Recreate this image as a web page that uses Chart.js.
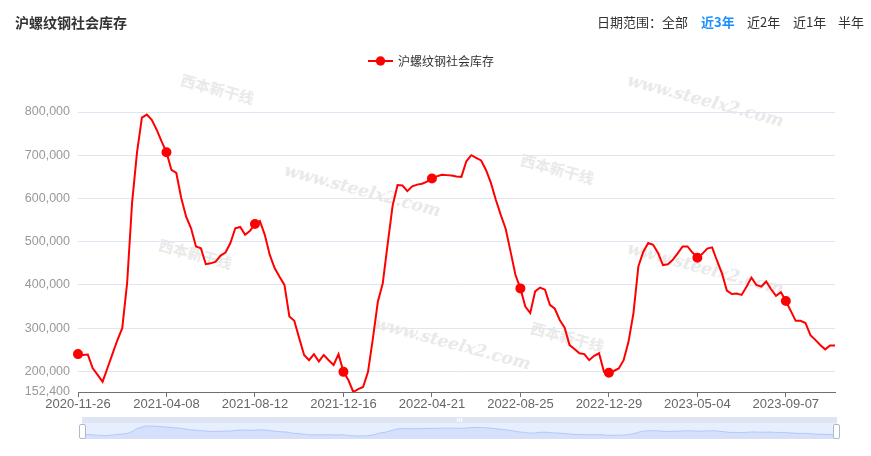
<!DOCTYPE html>
<html lang="zh-CN">
<head>
<meta charset="UTF-8">
<title>沪螺纹钢社会库存</title>
<script src="https://cdn.jsdelivr.net/npm/chart.js"></script>
<style>
  body { margin: 0; background: #fff; font-family: "Noto Sans CJK SC", "Noto Sans", sans-serif; }
  #wrap { position: relative; width: 871px; height: 456px; overflow: hidden; }
  #mainChart { position: absolute; left: 0; top: 0; }
  .title { position: absolute; left: 15px; top: 12px; line-height: 20px; font-size: 14px; font-weight: bold; color: #333; }
  .range { position: absolute; top: 12px; line-height: 20px; font-size: 13px; color: #333; }
  .range.on { color: #1890ff; font-weight: bold; }
  .legend { position: absolute; left: 368px; top: 52px; height: 18px; line-height: 18px; font-size: 12px; color: #333; }
  .legend svg { position: absolute; left: 0; top: 2px; }
  .legend span { position: absolute; left: 30px; top: 0; white-space: nowrap; }
  .wm { position: absolute; white-space: nowrap; color: #e9e9e9; font-style: italic; font-weight: bold; transform-origin: center; }
  .wm.url { font-family: "DejaVu Serif", serif; font-size: 17px; }
  .wm.cn { font-size: 15px; font-style: normal; }
  #slider { position: absolute; left: 82px; top: 417px; width: 755px; height: 22px; }
  #slider .bar { position: absolute; left: 0; top: 0; width: 755px; height: 6px; background: #dfe5f2; }
  #slider .grip { position: absolute; top: 1px; width: 1px; height: 4px; background: #fff; }
  #slider .body { position: absolute; left: 0; top: 6px; width: 755px; height: 16px; background: #e7eefd; }
  #miniChart { position: absolute; left: 0; top: 0; }
  #slider .handle { position: absolute; top: 7px; width: 5px; height: 13px; background: #fff; border: 1px solid #acb8d1; border-radius: 2px; }
</style>
</head>
<body>
<div id="wrap">
  <div class="wm url" style="left:625px;top:90px;transform:rotate(15deg);">www.steelx2.com</div>
  <div class="wm url" style="left:282px;top:180px;transform:rotate(15deg);">www.steelx2.com</div>
  <div class="wm url" style="left:372px;top:333px;transform:rotate(15deg);">www.steelx2.com</div>
  <div class="wm url" style="left:625px;top:258px;transform:rotate(15deg);">www.steelx2.com</div>
  <div class="wm cn" style="left:180px;top:78px;transform:rotate(15deg);">西本新干线</div>
  <div class="wm cn" style="left:158px;top:243px;transform:rotate(15deg);">西本新干线</div>
  <div class="wm cn" style="left:520px;top:158px;transform:rotate(15deg);">西本新干线</div>
  <div class="wm cn" style="left:530px;top:326px;transform:rotate(15deg);">西本新干线</div>

  <canvas id="mainChart" width="871" height="456"></canvas>

  <div class="title">沪螺纹钢社会库存</div>
  <div class="range" style="left:597px;">日期范围：</div>
  <div class="range" style="left:662px;">全部</div>
  <div class="range on" style="left:701px;">近3年</div>
  <div class="range" style="left:747px;">近2年</div>
  <div class="range" style="left:793px;">近1年</div>
  <div class="range" style="left:838px;">半年</div>

  <div class="legend">
    <svg width="25" height="14"><line x1="0" y1="7" x2="25" y2="7" stroke="#ff0000" stroke-width="2"/><circle cx="12.5" cy="7" r="4.7" fill="#ff0000"/></svg>
    <span>沪螺纹钢社会库存</span>
  </div>

  <div id="slider">
    <div class="bar"></div>
    <div class="grip" style="left:375px;"></div>
    <div class="grip" style="left:377px;"></div>
    <div class="grip" style="left:379px;"></div>
    <div class="body"><canvas id="miniChart" width="755" height="16"></canvas></div>
    <div class="handle" style="left:-3px;"></div>
    <div class="handle" style="left:751px;"></div>
  </div>
</div>

<script>
// weekly dates (no report in Spring Festival week 2021-02-11)
const dates = [
  '2020-11-26','2020-12-03','2020-12-10','2020-12-17','2020-12-24','2020-12-31',
  '2021-01-07','2021-01-14','2021-01-21','2021-01-28','2021-02-04','2021-02-18','2021-02-25',
  '2021-03-04','2021-03-11','2021-03-18','2021-03-25','2021-04-01','2021-04-08',
  '2021-04-15','2021-04-22','2021-04-29','2021-05-06','2021-05-13','2021-05-20','2021-05-27',
  '2021-06-03','2021-06-10','2021-06-17','2021-06-24','2021-07-01','2021-07-08','2021-07-15',
  '2021-07-22','2021-07-29','2021-08-05','2021-08-12',
  '2021-08-19','2021-08-26','2021-09-02','2021-09-09','2021-09-16','2021-09-23','2021-09-30',
  '2021-10-07','2021-10-14','2021-10-21','2021-10-28','2021-11-04','2021-11-11','2021-11-18',
  '2021-11-25','2021-12-02','2021-12-09','2021-12-16',
  '2021-12-23','2021-12-30','2022-01-06','2022-01-13','2022-01-20','2022-01-27','2022-02-03',
  '2022-02-10','2022-02-17','2022-02-24','2022-03-03','2022-03-10','2022-03-17','2022-03-24',
  '2022-03-31','2022-04-07','2022-04-14','2022-04-21',
  '2022-04-28','2022-05-05','2022-05-12','2022-05-19','2022-05-26','2022-06-02','2022-06-09',
  '2022-06-16','2022-06-23','2022-06-30','2022-07-07','2022-07-14','2022-07-21','2022-07-28',
  '2022-08-04','2022-08-11','2022-08-18','2022-08-25',
  '2022-09-01','2022-09-08','2022-09-15','2022-09-22','2022-09-29','2022-10-06','2022-10-13',
  '2022-10-20','2022-10-27','2022-11-03','2022-11-10','2022-11-17','2022-11-24','2022-12-01',
  '2022-12-08','2022-12-15','2022-12-22','2022-12-29',
  '2023-01-05','2023-01-12','2023-01-19','2023-01-26','2023-02-02','2023-02-09','2023-02-16',
  '2023-02-23','2023-03-02','2023-03-09','2023-03-16','2023-03-23','2023-03-30','2023-04-06',
  '2023-04-13','2023-04-20','2023-04-27','2023-05-04',
  '2023-05-11','2023-05-18','2023-05-25','2023-06-01','2023-06-08','2023-06-15','2023-06-22',
  '2023-06-29','2023-07-06','2023-07-13','2023-07-20','2023-07-27','2023-08-03','2023-08-10',
  '2023-08-17','2023-08-24','2023-08-31','2023-09-07',
  '2023-09-14','2023-09-21','2023-09-28','2023-10-05','2023-10-12','2023-10-19','2023-10-26',
  '2023-11-02','2023-11-09','2023-11-16'
];

// 沪螺纹钢社会库存 (吨)
const stock = [
  240000, 238000, 239000, 207000, 192000, 176000,
  208000, 240000, 272000, 300000, 405000, 590000, 706000,
  787000, 794000, 782000, 759000, 732000, 707000,
  666000, 659000, 601000, 558000, 531000, 489000, 485000,
  448000, 450000, 454000, 468000, 475000, 497000, 531000,
  534000, 516000, 525000, 541000,
  548000, 516000, 470000, 439000, 419000, 400000, 327000,
  317000, 277000, 238000, 226000, 240000, 223000, 238000,
  226000, 215000, 240000, 199000,
  180000, 152400, 159000, 164000, 199000, 277000, 361000,
  404000, 495000, 583000, 631000, 630000, 617000, 628000,
  632000, 634000, 639000, 646000,
  651000, 655000, 654000, 653000, 651000, 650000, 686000,
  700000, 694000, 688000, 666000, 636000, 597000, 562000,
  530000, 477000, 423000, 392000,
  350000, 335000, 385000, 394000, 389000, 354000, 345000,
  319000, 301000, 261000, 252000, 242000, 240000, 226000,
  236000, 242000, 199000, 197000,
  201000, 207000, 226000, 269000, 335000, 443000, 477000,
  497000, 493000, 474000, 446000, 448000, 458000, 473000,
  489000, 489000, 475000, 463000,
  472000, 484000, 487000, 456000, 427000, 387000, 379000,
  380000, 377000, 396000, 417000, 400000, 396000, 408000,
  390000, 375000, 383000, 363000,
  340000, 317000, 317000, 312000, 284000, 273000, 261000,
  251000, 260000, 260000
];

const yTicks = [152400, 200000, 300000, 400000, 500000, 600000, 700000, 800000];
const labelEvery = 18;

new Chart(document.getElementById('mainChart'), {
  type: 'line',
  data: {
    labels: dates,
    datasets: [{
      label: '沪螺纹钢社会库存',
      data: stock,
      borderColor: '#ff0000',
      backgroundColor: '#ff0000',
      pointBorderColor: '#ff0000',
      borderWidth: 2,
      tension: 0,
      pointRadius: ctx => (ctx.dataIndex % labelEvery === 0 ? 4 : 0),
      pointHoverRadius: 5
    }]
  },
  options: {
    responsive: false,
    animation: false,
    layout: { padding: { top: 112, right: 36, bottom: 34, left: 0 } },
    plugins: { legend: { display: false }, tooltip: { enabled: false } },
    scales: {
      x: {
        offset: false,
        afterFit: s => { s.height = 30; },
        grid: { drawOnChartArea: false, color: '#6E7079', tickLength: 5 },
        border: { color: '#6E7079' },
        ticks: {
          autoSkip: false,
          maxRotation: 0,
          padding: 0,
          color: '#666',
          font: { family: 'Liberation Sans', size: 13 },
          callback: function (v, i) { return i % labelEvery === 0 ? this.getLabelForValue(v) : null; }
        }
      },
      y: {
        min: 152400,
        max: 800000,
        afterBuildTicks: s => { s.ticks = yTicks.map(v => ({ value: v })); },
        afterFit: s => { s.width = 78; },
        grid: { color: '#E0E6F1', drawTicks: false },
        border: { display: false },
        ticks: {
          padding: 8,
          color: '#999',
          font: { family: 'Liberation Sans', size: 12.5 },
          callback: v => v.toLocaleString('en-US')
        }
      }
    }
  }
});

// data-zoom slider shadow
const lo = Math.min(...stock), hi = Math.max(...stock), pad = (hi - lo) * 0.3;
new Chart(document.getElementById('miniChart'), {
  type: 'line',
  data: {
    labels: dates,
    datasets: [{
      data: stock,
      borderColor: 'rgba(143,176,247,0.8)',
      borderWidth: 0.7,
      backgroundColor: 'rgba(143,176,247,0.2)',
      fill: 'start',
      pointRadius: 0,
      tension: 0.3
    }]
  },
  options: {
    responsive: false,
    animation: false,
    layout: { padding: 0 },
    plugins: { legend: { display: false }, tooltip: { enabled: false } },
    scales: {
      x: { display: false, offset: false },
      y: { display: false, min: lo - pad, max: hi + pad }
    }
  }
});
</script>
</body>
</html>
